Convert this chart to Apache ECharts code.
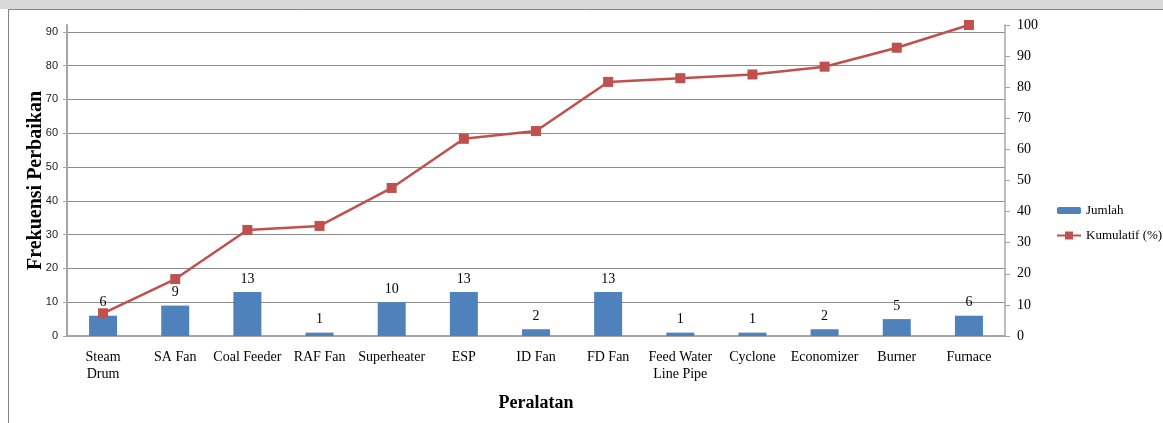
<!DOCTYPE html>
<html>
<head>
<meta charset="utf-8">
<style>
  html, body { margin: 0; padding: 0; background: #ffffff; }
  #chart { width: 1163px; height: 423px; }
</style>
<script src="https://cdn.jsdelivr.net/npm/echarts@6/dist/echarts.min.js"></script>
</head>
<body>
<div id="chart"></div>
<script>
// Equipment names (category axis)
const categories = ['Steam\nDrum', 'SA Fan', 'Coal Feeder', 'RAF Fan', 'Superheater', 'ESP',
  'ID Fan', 'FD Fan', 'Feed Water\nLine Pipe', 'Cyclone', 'Economizer', 'Burner', 'Furnace'];
// Repair frequency per equipment
const jumlah = [6, 9, 13, 1, 10, 13, 2, 13, 1, 1, 2, 5, 6];
// Cumulative percentage
const kumulatif = [7.3, 18.3, 34.1, 35.4, 47.6, 63.4, 65.9, 81.7, 82.9, 84.1, 86.6, 92.7, 100];
// Tick values
const leftTicks = [0, 10, 20, 30, 40, 50, 60, 70, 80, 90];
const rightTicks = [0, 10, 20, 30, 40, 50, 60, 70, 80, 90, 100];

const serif = '"Liberation Serif", "Times New Roman", serif';
const sans = '"Liberation Sans Narrow", "Liberation Sans", Arial, sans-serif';

const chart = echarts.init(document.getElementById('chart'), null, { renderer: 'canvas' });

chart.setOption({
  animation: false,
  backgroundColor: '#ffffff',
  graphic: [
    { type: 'rect', left: 0, top: 0, shape: { x: 0, y: 0, width: 1163, height: 9 }, style: { fill: '#d9d9d9' }, silent: true },
    { type: 'line', shape: { x1: 8, y1: 9.5, x2: 1163, y2: 9.5 }, style: { stroke: '#868686', lineWidth: 1 }, silent: true },
    { type: 'line', shape: { x1: 8.5, y1: 9, x2: 8.5, y2: 423 }, style: { stroke: '#868686', lineWidth: 1 }, silent: true }
  ],
  grid: { left: 67, right: 158, top: 25, bottom: 87, containLabel: false },
  legend: [
    {
      data: [{ name: 'Jumlah' }],
      left: 1052, top: 199, orient: 'vertical',
      itemWidth: 24, itemHeight: 7,
      textStyle: { fontFamily: serif, fontSize: 13, color: '#000' }
    },
    {
      data: [{ name: 'Kumulatif (%)' }],
      left: 1051, top: 224, orient: 'vertical',
      itemWidth: 24, itemHeight: 10,
      textStyle: { fontFamily: serif, fontSize: 13, color: '#000' }
    }
  ],
  xAxis: {
    type: 'category',
    data: categories,
    name: 'Peralatan',
    nameLocation: 'middle',
    nameGap: 58,
    nameTextStyle: { fontFamily: serif, fontSize: 18, fontWeight: 'bold', color: '#000' },
    axisLine: { lineStyle: { color: '#a6a6a6', width: 2 } },
    axisTick: { show: false },
    axisLabel: { fontFamily: serif, fontSize: 14, color: '#000', margin: 13, interval: 0, lineHeight: 17 }
  },
  yAxis: [
    {
      type: 'value',
      min: 0, max: 92, interval: 10,
      name: 'Frekuensi Perbaikan',
      nameLocation: 'middle',
      nameGap: 21,
      nameMoveOverlap: false,
      nameTextStyle: { fontFamily: serif, fontSize: 20, fontWeight: 'bold', color: '#000' },
      axisLine: { show: true, lineStyle: { color: '#a6a6a6', width: 2 } },
      axisTick: { show: true, length: 4, lineStyle: { color: '#a6a6a6' }, customValues: leftTicks },
      axisLabel: { fontFamily: sans, fontSize: 11, color: '#222', margin: 9, customValues: leftTicks },
      splitLine: { show: true, lineStyle: { color: '#8c8c8c', width: 1 } }
    },
    {
      type: 'value',
      min: 0, max: 100, interval: 10,
      position: 'right',
      axisLine: { show: true, lineStyle: { color: '#a6a6a6', width: 1.5 } },
      axisTick: { show: true, length: 5, lineStyle: { color: '#a6a6a6' }, customValues: rightTicks },
      axisLabel: { fontFamily: serif, fontSize: 14, color: '#000', margin: 12, customValues: rightTicks },
      splitLine: { show: false }
    }
  ],
  series: [
    {
      name: 'Jumlah',
      type: 'bar',
      data: jumlah,
      yAxisIndex: 0,
      barWidth: 28,
      itemStyle: { color: '#4f81bd' },
      label: { show: true, position: 'top', distance: 6, fontFamily: serif, fontSize: 14, color: '#000' }
    },
    {
      name: 'Kumulatif (%)',
      type: 'line',
      data: kumulatif,
      yAxisIndex: 1,
      symbol: 'rect',
      symbolSize: 10,
      z: 3,
      lineStyle: { color: '#c0504d', width: 2.5 },
      itemStyle: { color: '#c0504d' }
    }
  ]
});
</script>
</body>
</html>
